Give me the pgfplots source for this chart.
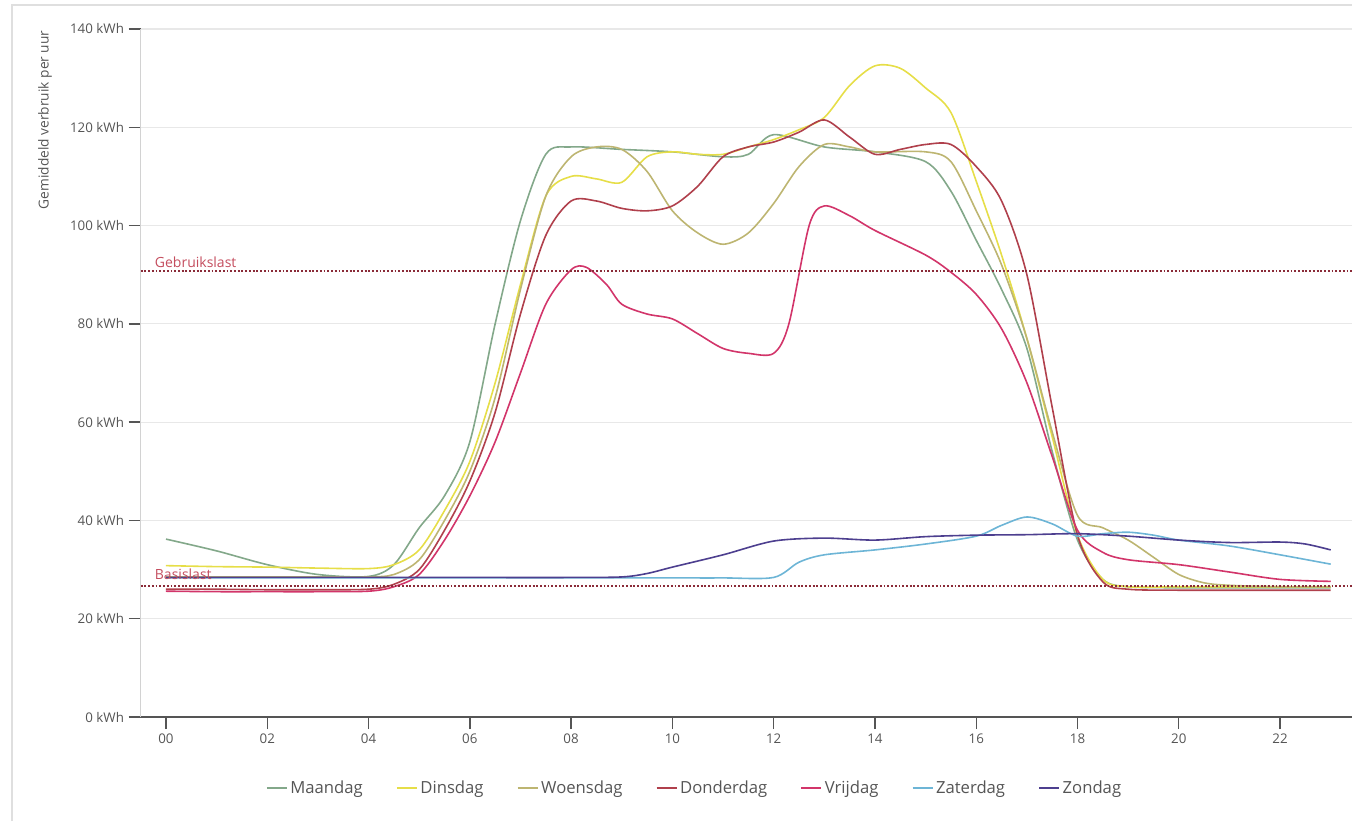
\documentclass[border=0pt]{standalone}
\usepackage{fontspec}
\setmainfont{Open Sans}
\usepackage{pgfplots}
\pgfplotsset{compat=1.18}
\definecolor{cMa}{HTML}{83A88A}
\definecolor{cDi}{HTML}{E6DE48}
\definecolor{cWo}{HTML}{BDB571}
\definecolor{cDo}{HTML}{B0404C}
\definecolor{cVr}{HTML}{D2356A}
\definecolor{cZa}{HTML}{6DB5D6}
\definecolor{cZo}{HTML}{4D3F8F}
\definecolor{refline}{HTML}{8A2B38}
\definecolor{reftext}{HTML}{C44D5E}
\definecolor{ticktxt}{HTML}{555555}
\begin{document}
\begin{tikzpicture}
\useasboundingbox (0,0) rectangle (1014pt,615.75pt);
\draw[gray!25, line width=0.8pt] (9pt,0pt) -- (9pt,612pt) -- (1014pt,612pt);
\node[rotate=90, anchor=east, font=\fontsize{10.3}{12}\selectfont, text=ticktxt, inner sep=0pt] at (33.75pt,593pt) {Gemiddeld verbruik per uur};
\begin{axis}[
  at={(105.5pt,78pt)}, anchor=south west,
  scale only axis, width=908.5pt, height=516pt,
  xmin=-0.5, xmax=23.42, ymin=0, ymax=140,
  xtick={0,2,...,22},
  xticklabels={00,02,04,06,08,10,12,14,16,18,20,22},
  ytick={0,20,...,140},
  /pgf/number format/assume math mode=true,
  yticklabel={\pgfmathprintnumber{\tick} kWh},
  ymajorgrids,
  grid style={gray!18, line width=0.8pt},
  axis x line*=bottom, axis y line*=left,
  x axis line style={color=ticktxt, line width=1.3pt, -},
  y axis line style={color=gray!35, line width=0.8pt, -},
  tick align=outside,
  major tick length=9pt,
  xtick style={color=ticktxt, line width=1pt},
  ytick style={color=ticktxt, line width=1pt},
  tick label style={font=\fontsize{10}{12}\selectfont, text=ticktxt},
  clip=false,
  legend style={at={(0.4576,-0.1032)}, anchor=center, draw=none, fill=none,
    font=\fontsize{12.5}{14}\selectfont, text=ticktxt,
    /tikz/every even column/.append style={column sep=23pt}},
  legend columns=7,
  legend image code/.code={\draw[#1, line width=1.2pt] (0pt,0pt) -- (15pt,0pt);},
  every axis plot/.append style={line width=1.2pt, smooth, tension=0.5, no markers},
]
% Maandag
\addplot[cMa] coordinates {(0,36.2) (1,33.8) (2,31) (3,29) (4,28.6) (4.5,31) (5,38.5) (5.5,45) (6,56) (6.5,80) (7,101) (7.5,114.5) (8,116) (9,115.5) (10,115) (11,114) (11.5,114.5) (12,118.5) (13,116) (14,115) (15,113) (15.5,107) (16,97) (16.5,87) (17,75) (17.5,54) (18,36) (18.5,28) (19,26.5) (20,26.3) (21,26.3) (22,26.3) (23,26.3)};
\addlegendentry{Maandag}
% Dinsdag
\addplot[cDi] coordinates {(0,30.8) (1,30.6) (2,30.5) (3,30.3) (4,30.2) (4.5,31) (5,34) (5.5,42) (6,52) (6.5,68) (7,88) (7.5,106) (8,110) (8.5,109.5) (9,108.8) (9.5,114) (10,115) (10.5,114.5) (11,114.5) (11.5,116) (12,117.5) (12.5,119.5) (13,122) (13.5,128.5) (14,132.5) (14.5,132) (15,128) (15.5,123) (16,109) (16.5,94) (17,77) (17.5,57) (18,37) (18.5,28) (19,26.5) (20,26.5) (21,26.5) (22,26.5) (23,26.5)};
\addlegendentry{Dinsdag}
% Woensdag
\addplot[cWo] coordinates {(0,28.5) (1,28.5) (2,28.5) (3,28.5) (4,28.5) (4.5,29) (5,32) (5.5,40) (6,50) (6.5,65) (7,87) (7.5,106) (8,114) (8.5,116) (9,115.5) (9.5,111) (10,103) (10.5,98.5) (11,96.2) (11.5,98.5) (12,104.5) (12.5,112) (13,116.5) (13.5,116) (14,115) (15,115) (15.5,113) (16,103) (16.5,92) (17,77) (17.5,58) (18,41) (18.5,38.5) (19,36) (19.5,32.5) (20,29) (20.5,27.3) (21,26.8) (22,26.5) (23,26.5)};
\addlegendentry{Woensdag}
% Donderdag
\addplot[cDo] coordinates {(0,26) (1,26) (2,25.9) (3,25.9) (4,26) (4.5,27) (5,30) (5.5,38) (6,48) (6.5,62) (7,82) (7.5,98) (8,105) (8.5,105) (9,103.5) (9.5,103) (10,104) (10.5,108) (11,114) (11.5,116) (12,117) (12.5,119) (13,121.5) (13.5,118) (14,114.5) (14.5,115.5) (15,116.5) (15.5,116.5) (16,112) (16.5,105) (17,90) (17.5,63) (18,37) (18.5,27.5) (19,26) (20,25.8) (21,25.8) (22,25.8) (23,25.8)};
\addlegendentry{Donderdag}
% Vrijdag
\addplot[cVr] coordinates {(0,25.6) (1,25.5) (2,25.5) (3,25.5) (4,25.6) (4.5,26.5) (5,29) (5.5,36) (6,45) (6.5,56) (7,70) (7.5,84) (8,91) (8.3,91.5) (8.7,88) (9,84) (9.5,82) (10,81) (10.5,78) (11,75) (11.5,74) (12,74) (12.3,80) (12.7,100) (13,104) (13.5,102) (14,99) (15,94) (15.5,90.5) (16,86) (16.5,79) (17,68) (17.5,53) (18,38) (18.5,33.5) (19,32) (20,31) (21,29.5) (22,28) (23,27.6)};
\addlegendentry{Vrijdag}
% Zaterdag
\addplot[cZa] coordinates {(0,28.3) (2,28.3) (4,28.3) (6,28.3) (8,28.3) (10,28.3) (11,28.3) (12,28.4) (12.5,31.5) (13,33) (14,34) (15,35.2) (16,36.8) (16.5,39) (17,40.7) (17.5,39.3) (18,36.8) (18.5,37.3) (19,37.6) (19.5,37) (20,36) (21,34.8) (22,33) (23,31.1)};
\addlegendentry{Zaterdag}
% Zondag
\addplot[cZo] coordinates {(0,28.4) (2,28.4) (4,28.4) (6,28.4) (8,28.4) (9,28.5) (9.5,29.2) (10,30.5) (11,33) (12,35.8) (13,36.4) (14,36) (15,36.7) (16,37) (17,37.1) (18,37.3) (19,36.8) (20,36) (21,35.5) (22,35.6) (22.5,35.2) (23,34)};
\addlegendentry{Zondag}
% reference lines
\addplot[refline, line width=1.3pt, dash pattern=on 1.4pt off 1.4pt, sharp plot, forget plot] coordinates {(-0.5,90.8) (23.42,90.8)};
\addplot[refline, line width=1.3pt, dash pattern=on 1.4pt off 1.4pt, sharp plot, forget plot] coordinates {(-0.5,26.7) (23.42,26.7)};
\node[anchor=south west, text=reftext, font=\fontsize{10.5}{12}\selectfont, inner sep=1pt] at (axis cs:-0.25,91.2) {Gebruikslast};
\node[anchor=south west, text=reftext, font=\fontsize{10.5}{12}\selectfont, inner sep=1pt] at (axis cs:-0.25,27.6) {Basislast};
\end{axis}
\end{tikzpicture}
\end{document}
